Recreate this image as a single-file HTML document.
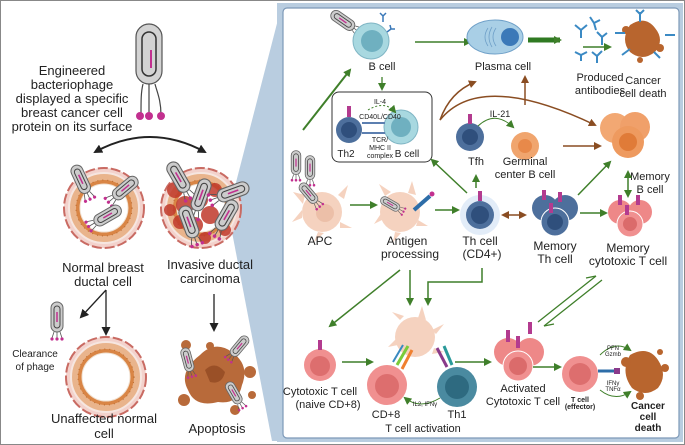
<!DOCTYPE html>
<html><head><meta charset="utf-8"><style>
html,body{margin:0;padding:0;background:#fff}
svg{display:block}
text{font-family:"Liberation Sans",sans-serif;fill:#222}
</style></head><body>
<svg width="685" height="445" viewBox="0 0 685 445" xmlns="http://www.w3.org/2000/svg">
<defs>
<marker id="ga" markerWidth="8" markerHeight="8" refX="6" refY="4" orient="auto" markerUnits="userSpaceOnUse"><path d="M0,0L8,4L0,8z" fill="#3f7f2a"/></marker>
<marker id="ba" markerWidth="8" markerHeight="8" refX="6" refY="4" orient="auto" markerUnits="userSpaceOnUse"><path d="M0,0L8,4L0,8z" fill="#8a4d22"/></marker>
<marker id="bs" markerWidth="8" markerHeight="8" refX="2" refY="4" orient="auto" markerUnits="userSpaceOnUse"><path d="M8,0L0,4L8,8z" fill="#8a4d22"/></marker>
<marker id="ka" markerWidth="9" markerHeight="9" refX="7" refY="4.5" orient="auto" markerUnits="userSpaceOnUse"><path d="M0,0L9,4.5L0,9z" fill="#222"/></marker>
<marker id="ks" markerWidth="9" markerHeight="9" refX="2" refY="4.5" orient="auto" markerUnits="userSpaceOnUse"><path d="M9,0L0,4.5L9,9z" fill="#222"/></marker>
<marker id="gs" markerWidth="8" markerHeight="8" refX="2" refY="4" orient="auto" markerUnits="userSpaceOnUse"><path d="M8,0L0,4L8,8z" fill="#3f7f2a"/></marker>
<g id="phage">
<rect x="-6" y="-18" width="12" height="30" rx="6" fill="#ccc" stroke="#666" stroke-width="1"/>
<rect x="-3" y="-14" width="6" height="22" rx="3" fill="none" stroke="#444" stroke-width="1"/>
<line x1="0" y1="-8" x2="0" y2="2" stroke="#c2308f" stroke-width="1.5"/>
<path d="M-3,12L-5,18M0,12L0,18M3,12L5,18" stroke="#555" stroke-width="0.8"/>
<circle cx="-5" cy="19" r="1.6" fill="#c2308f"/><circle cx="0" cy="19" r="1.6" fill="#c2308f"/><circle cx="5" cy="19" r="1.6" fill="#c2308f"/>
</g>
<g id="duct">
<circle r="40" fill="#f3d2cc" stroke="#c96b63" stroke-width="2" stroke-dasharray="10 3"/>
<circle r="35" fill="#e9b48c" stroke="#f6e6e0" stroke-width="2"/>
<circle r="28" fill="#d98545"/>
<circle r="28" fill="none" stroke="#b86a30" stroke-width="1" stroke-dasharray="1 4"/>
<circle r="24" fill="#fff" stroke="#f0e0d0" stroke-width="1"/>
</g>
</defs>

<!-- outer frame -->
<rect x="0.5" y="0.5" width="684" height="444" fill="#fff" stroke="#888"/>
<!-- wedge -->
<polygon points="282,4 232,198 232,232 272,441 282,441" fill="#b9cde0"/>
<rect x="277" y="3" width="406" height="439" fill="#b9cde0"/>
<rect x="283" y="8" width="396" height="430" rx="4" fill="#fff" stroke="#7d99b8" stroke-width="1.2"/>

<!-- LEFT PANEL -->
<g transform="translate(149,60)">
<rect x="-13" y="-36" width="26" height="60" rx="13" fill="#d3d3d3" stroke="#555" stroke-width="1.2"/>
<rect x="-7" y="-28" width="14" height="44" rx="7" fill="none" stroke="#333" stroke-width="1.5"/>
<line x1="2" y1="-10" x2="2" y2="8" stroke="#c2308f" stroke-width="2"/>
<path d="M-6,24C-8,32 -8,40 -8,55M0,24V55M6,24C8,32 12,40 12,55" stroke="#444" stroke-width="1.2" fill="none"/>
<circle cx="-9" cy="56" r="4" fill="#c2308f"/><circle cx="0" cy="56" r="4" fill="#c2308f"/><circle cx="12" cy="56" r="4" fill="#c2308f"/>
</g>
<g font-size="13" text-anchor="middle">
<text x="72" y="75">Engineered</text>
<text x="72" y="89">bacteriophage</text>
<text x="72" y="103">displayed a specific</text>
<text x="72" y="117">breast cancer cell</text>
<text x="72" y="131">protein on its surface</text>
</g>
<path d="M95,152Q150,122 205,152" fill="none" stroke="#222" stroke-width="2" marker-end="url(#ka)" marker-start="url(#ks)"/>

<use href="#duct" x="104" y="208"/>
<use href="#phage" transform="translate(82,182) rotate(-25)"/>
<use href="#phage" transform="translate(123,190) rotate(50)"/>
<use href="#phage" transform="translate(105,217) rotate(60)"/>
<use href="#duct" x="201" y="208"/>
<g fill="#c0392b" opacity="0.85">
<circle cx="175" cy="190" r="8"/><circle cx="185" cy="205" r="9"/><circle cx="200" cy="200" r="8"/><circle cx="210" cy="215" r="9"/><circle cx="195" cy="225" r="8"/><circle cx="180" cy="222" r="7"/><circle cx="215" cy="190" r="7"/><circle cx="225" cy="230" r="6"/><circle cx="170" cy="210" r="6"/><circle cx="205" cy="238" r="6"/>
</g>
<use href="#phage" transform="translate(180,180) rotate(-30) scale(1.1)"/>
<use href="#phage" transform="translate(200,198) rotate(20) scale(1.1)"/>
<use href="#phage" transform="translate(230,193) rotate(70) scale(1.1)"/>
<use href="#phage" transform="translate(225,218) rotate(30) scale(1.1)"/>
<use href="#phage" transform="translate(190,225) rotate(-20) scale(1.1)"/>

<g font-size="13" text-anchor="middle">
<text x="103" y="272">Normal breast</text>
<text x="103" y="286">ductal cell</text>
<text x="210" y="269">Invasive ductal</text>
<text x="210" y="283">carcinoma</text>
</g>
<path d="M106,290L81,317" stroke="#222" stroke-width="1.3" marker-end="url(#ka)"/>
<path d="M106,290V334" stroke="#222" stroke-width="1.3" marker-end="url(#ka)"/>
<path d="M214,294V330" stroke="#222" stroke-width="1.3" marker-end="url(#ka)"/>
<use href="#phage" transform="translate(57,320)"/>
<g font-size="10" text-anchor="middle"><text x="35" y="357">Clearance</text><text x="35" y="370">of phage</text></g>
<use href="#duct" x="106" y="377"/>
<g font-size="13" text-anchor="middle"><text x="104" y="423">Unaffected normal</text><text x="104" y="438">cell</text></g>
<g fill="#b86a3a">
<path d="M200,355Q215,340 232,352Q250,365 242,385Q238,405 218,402Q195,408 188,390Q178,372 200,355z"/>
<circle cx="186" cy="345" r="5"/><circle cx="250" cy="372" r="6"/><circle cx="184" cy="400" r="6"/><circle cx="235" cy="410" r="5"/><circle cx="210" cy="346" r="4"/><circle cx="252" cy="395" r="4"/>
</g>
<path d="M205,370Q215,360 225,372Q222,385 210,382z" fill="#9a5027"/>
<use href="#phage" transform="translate(188,362) rotate(-15) scale(0.8)"/>
<use href="#phage" transform="translate(238,348) rotate(40) scale(0.8)"/>
<use href="#phage" transform="translate(235,395) rotate(-30) scale(0.8)"/>
<text x="217" y="433" font-size="13" text-anchor="middle">Apoptosis</text>

<!-- RIGHT PANEL -->
<!-- B cell top -->
<use href="#phage" transform="translate(345,22) rotate(-55) scale(0.9)"/>
<circle cx="371" cy="41" r="18" fill="#a8d8e0" stroke="#7fb5c4"/><circle cx="372" cy="41" r="11" fill="#6fb0c0"/>
<path d="M383,22v-6m0,0l-3,-3m3,3l3,-3M387,32l4,-3m0,0l-1,-4m1,4l4,0" stroke="#3a78b8" stroke-width="1.5" fill="none"/>
<text x="382" y="70" font-size="11" text-anchor="middle">B cell</text>
<path d="M415,42H470" stroke="#3f7f2a" stroke-width="1.5" marker-end="url(#ga)"/>
<ellipse cx="495" cy="37" rx="28" ry="17" fill="#a9cfe6" stroke="#6fa0c8"/>
<circle cx="510" cy="37" r="9" fill="#3b79b8"/>
<path d="M488,28q-6,9 0,18M492,27q-6,10 0,20M496,28q-6,9 0,18" stroke="#6fa0c8" fill="none" stroke-width="0.8"/>
<text x="503" y="70" font-size="11" text-anchor="middle">Plasma cell</text>
<path d="M528,40H560" stroke="#2f7a22" stroke-width="5" marker-end="url(#ga)"/>
<g stroke="#3b8ac4" stroke-width="2" fill="none">
<path d="M575,25l6,5l6,-5M581,30v8"/><path d="M590,17l4,6l6,-3M594,23l2,7"/><path d="M597,32l5,5l5,-4M602,37v8"/>
<path d="M575,52l6,3l6,-3M581,55v6"/><path d="M592,52l5,4l5,-5M597,56v7"/>
</g>
<path d="M583,47H610" stroke="#3f7f2a" stroke-width="1.5" marker-end="url(#ga)"/>
<g fill="#b8652e"><path d="M630,25Q645,15 655,28Q665,40 655,52Q642,62 630,52Q620,40 630,25z"/><circle cx="626" cy="30" r="4"/><circle cx="660" cy="48" r="4"/><circle cx="640" cy="60" r="3"/></g>
<g stroke="#3b8ac4" stroke-width="2" fill="none"><path d="M640,12v10M636,10l4,4l4,-4"/><path d="M615,33h10"/><path d="M665,35h10"/><path d="M622,55l8,-6"/><path d="M660,58l-6,-6"/></g>
<g font-size="11" text-anchor="middle"><text x="600" y="81">Produced</text><text x="600" y="94">antibodies</text><text x="643" y="84">Cancer</text><text x="643" y="97">cell death</text></g>

<!-- Th2 box -->
<path d="M382,77V89" stroke="#3f7f2a" stroke-width="1.3" marker-end="url(#ga)"/>
<rect x="332" y="92" width="100" height="70" rx="7" fill="#fff" stroke="#333" stroke-width="1"/>
<circle cx="349" cy="130" r="13" fill="#4d6f9c"/><circle cx="349" cy="130" r="8" fill="#2f4f7c"/>
<rect x="347" y="106" width="4" height="11" fill="#b33b8f"/>
<circle cx="401" cy="127" r="17" fill="#a8d8e0" stroke="#7fb5c4"/><circle cx="401" cy="127" r="10" fill="#6fb0c0"/>
<path d="M362,123H385M362,133H385" stroke="#5c7fb0" stroke-width="2"/>
<path d="M368,110Q385,100 395,112" stroke="#3f7f2a" fill="none" stroke-dasharray="2 2" marker-end="url(#ga)"/>
<g font-size="7" text-anchor="middle" fill="#333"><text x="380" y="104">IL-4</text><text x="380" y="119">CD40L/CD40</text><text x="380" y="142">TCR/</text><text x="380" y="150">MHC II</text><text x="380" y="158">complex</text></g>
<text x="346" y="157" font-size="10" text-anchor="middle">Th2</text><text x="407" y="157" font-size="10" text-anchor="middle">B cell</text>
<path d="M303,130L350,70" stroke="#3f7f2a" stroke-width="2" marker-end="url(#ga)"/>

<!-- brown curves -->
<path d="M440,120Q450,92 475,82" stroke="#8a4d22" stroke-width="1.5" fill="none" marker-end="url(#ba)"/>
<path d="M440,120Q480,70 595,125" stroke="#8a4d22" stroke-width="1.5" fill="none" marker-end="url(#ba)"/>
<path d="M525,105V77" stroke="#8a4d22" stroke-width="1.5" marker-end="url(#ba)"/>
<circle cx="470" cy="137" r="14" fill="#4d6f9c"/><circle cx="470" cy="137" r="8" fill="#2f4f7c"/>
<rect x="468" y="114" width="4" height="10" fill="#b33b8f"/>
<text x="476" y="165" font-size="11" text-anchor="middle">Tfh</text>
<path d="M478,126Q495,110 513,127" stroke="#3f7f2a" fill="none" marker-end="url(#ga)"/>
<text x="500" y="117" font-size="9" text-anchor="middle">IL-21</text>
<circle cx="525" cy="146" r="14" fill="#f0a56e"/><circle cx="525" cy="146" r="7" fill="#e8894a"/>
<g font-size="11" text-anchor="middle"><text x="525" y="165">Germinal</text><text x="525" y="178">center B cell</text></g>
<path d="M563,146H600" stroke="#8a4d22" stroke-width="1.5" marker-end="url(#ba)"/>
<circle cx="615" cy="128" r="15" fill="#f2a873"/><circle cx="635" cy="127" r="15" fill="#f0a06a"/><circle cx="628" cy="142" r="16" fill="#ee9a5f"/><circle cx="628" cy="142" r="9" fill="#e07b38"/>
<g font-size="11" text-anchor="middle"><text x="650" y="180">Memory</text><text x="650" y="193">B cell</text></g>

<!-- APC row -->
<use href="#phage" transform="translate(296,165) scale(0.8)"/><use href="#phage" transform="translate(310,170) scale(0.8)"/>
<g fill="#f5d2bf"><circle cx="322" cy="212" r="20"/><path d="M305,195l-12,-3l10,12zM338,195l10,-10l-4,14zM340,222l12,6l-12,0zM318,232l-4,10l10,-9zM302,218l-10,4l10,-12z"/></g>
<circle cx="325" cy="213" r="9" fill="#ecbfa8"/>
<use href="#phage" transform="translate(310,195) rotate(-40) scale(0.8)"/>
<text x="320" y="245" font-size="12" text-anchor="middle">APC</text>
<path d="M350,205H376" stroke="#3f7f2a" stroke-width="1.5" marker-end="url(#ga)"/>
<g fill="#f5d2bf"><circle cx="400" cy="212" r="20"/><path d="M385,196l-6,-12l12,8zM408,193l4,-12l4,14zM418,220l10,6l-12,0zM395,232l-2,10l8,-9zM382,220l-8,4l8,-12z"/></g>
<use href="#phage" transform="translate(392,205) rotate(-60) scale(0.7)"/>
<path d="M414,210L430,196" stroke="#2d6da8" stroke-width="4"/><circle cx="432" cy="194" r="2.5" fill="#c2308f"/>
<g font-size="12" text-anchor="middle"><text x="407" y="245">Antigen</text><text x="410" y="258">processing</text></g>
<path d="M435,210H458" stroke="#3f7f2a" stroke-width="1.5" marker-end="url(#ga)"/>
<circle cx="480" cy="215" r="20" fill="#cfe0f3" opacity="0.6"/>
<circle cx="480" cy="215" r="14" fill="#4d6f9c"/><circle cx="480" cy="215" r="9" fill="#2f4f7c"/>
<rect x="478" y="191" width="4" height="10" fill="#b33b8f"/>
<g font-size="12" text-anchor="middle"><text x="480" y="245">Th cell</text><text x="482" y="258">(CD4+)</text></g>
<path d="M476,188V176" stroke="#3f7f2a" stroke-width="1.5" marker-end="url(#ga)"/>
<path d="M467,193L432,160" stroke="#3f7f2a" stroke-width="1.5" marker-end="url(#ga)"/>
<path d="M503,215H525" stroke="#8a4d22" stroke-width="1.5" marker-end="url(#ba)" marker-start="url(#bs)"/>
<circle cx="545" cy="208" r="13" fill="#4d6f9c"/><circle cx="565" cy="208" r="13" fill="#4d6f9c"/><circle cx="555" cy="222" r="14" fill="#4d6f9c" stroke="#fff"/>
<circle cx="555" cy="222" r="8" fill="#2f4f7c"/>
<rect x="542" y="190" width="4" height="10" fill="#b33b8f"/><rect x="558" y="192" width="4" height="10" fill="#b33b8f"/><rect x="549" y="203" width="4" height="10" fill="#b33b8f"/>
<g font-size="12" text-anchor="middle"><text x="555" y="250">Memory</text><text x="555" y="263">Th cell</text></g>
<path d="M580,213H606" stroke="#3f7f2a" stroke-width="1.5" marker-end="url(#ga)"/>
<path d="M578,195L610,162" stroke="#3f7f2a" stroke-width="1.5" marker-end="url(#ga)"/>
<path d="M628,172V196" stroke="#3f7f2a" stroke-width="1.5" marker-end="url(#ga)" marker-start="url(#gs)"/>
<circle cx="620" cy="212" r="12" fill="#ee8888"/><circle cx="640" cy="212" r="12" fill="#ee8888"/><circle cx="630" cy="224" r="13" fill="#f09090" stroke="#fff"/><circle cx="630" cy="224" r="7" fill="#db6b6b"/>
<rect x="618" y="195" width="4" height="10" fill="#b33b8f"/><rect x="636" y="195" width="4" height="10" fill="#b33b8f"/><rect x="625" y="205" width="4" height="10" fill="#b33b8f"/>
<g font-size="12" text-anchor="middle"><text x="628" y="252">Memory</text><text x="628" y="265">cytotoxic T cell</text></g>

<!-- bottom -->
<path d="M400,270L330,326" stroke="#3f7f2a" stroke-width="1.5" marker-end="url(#ga)"/>
<path d="M410,270V304" stroke="#3f7f2a" stroke-width="1.5" marker-end="url(#ga)"/>
<path d="M482,268V282H428V304" stroke="#3f7f2a" stroke-width="1.5" fill="none" marker-end="url(#ga)"/>
<circle cx="320" cy="365" r="16" fill="#f09090"/><circle cx="320" cy="366" r="10" fill="#dd6e6e"/>
<rect x="318" y="340" width="4" height="10" fill="#b33b8f"/>
<g font-size="11" text-anchor="middle"><text x="320" y="395">Cytotoxic T cell</text><text x="328" y="408">(naive CD+8)</text></g>
<path d="M342,362H372" stroke="#3f7f2a" stroke-width="1.5" marker-end="url(#ga)"/>
<g fill="#f5d2bf"><circle cx="415" cy="337" r="20"/><path d="M400,320l-8,-8l12,4zM418,318l4,-12l4,14zM432,330l12,-6l-8,10zM434,348l10,4l-12,2zM398,345l-10,2l10,-10z"/></g>
<circle cx="387" cy="385" r="20" fill="#f09090"/><circle cx="387" cy="386" r="12" fill="#dd6e6e"/>
<circle cx="457" cy="387" r="20" fill="#4a8aa0"/><circle cx="457" cy="387" r="12" fill="#2e6a80"/>
<path d="M397,365L408,346" stroke="#7acb3a" stroke-width="3"/><path d="M402,369L412,350" stroke="#f08030" stroke-width="3"/><path d="M393,362L403,345" stroke="#3a8ac0" stroke-width="2"/>
<path d="M447,367L437,348" stroke="#8a3a8a" stroke-width="3"/><path d="M452,365L444,346" stroke="#2a9a9a" stroke-width="3"/>
<path d="M405,398Q420,410 440,398" stroke="#3f7f2a" fill="none" marker-start="url(#gs)"/>
<text x="425" y="406" font-size="6" text-anchor="middle" fill="#444">IL2, IFNγ</text>
<g font-size="11" text-anchor="middle"><text x="386" y="418">CD+8</text><text x="457" y="418">Th1</text><text x="423" y="432">T cell activation</text></g>
<path d="M455,362H490" stroke="#3f7f2a" stroke-width="1.5" marker-end="url(#ga)"/>
<circle cx="508" cy="352" r="14" fill="#ee8888"/><circle cx="530" cy="352" r="14" fill="#ee8888"/><circle cx="518" cy="366" r="15" fill="#f09090" stroke="#fff"/><circle cx="518" cy="366" r="9" fill="#db6b6b"/>
<rect x="506" y="330" width="4" height="12" fill="#b33b8f"/><rect x="528" y="322" width="4" height="12" fill="#b33b8f"/><rect x="516" y="336" width="4" height="12" fill="#b33b8f"/>
<g font-size="11" text-anchor="middle"><text x="523" y="392">Activated</text><text x="523" y="405">Cytotoxic T cell</text></g>
<path d="M538,322L596,276M544,326L602,280" stroke="#3f7f2a" stroke-width="1.3"/>
<path d="M596,276l-10,2M544,326l10,-2" stroke="#3f7f2a" stroke-width="1.3"/>
<path d="M533,367H560" stroke="#3f7f2a" stroke-width="1.5" marker-end="url(#ga)"/>
<circle cx="580" cy="374" r="18" fill="#f09090"/><circle cx="580" cy="374" r="11" fill="#dd6e6e"/>
<path d="M598,371H615" stroke="#2d6da8" stroke-width="3"/><rect x="614" y="368" width="6" height="6" fill="#8a3a8a"/>
<g fill="#b8652e"><path d="M630,355Q648,345 658,360Q668,375 658,388Q645,398 632,388Q620,372 630,355z"/><circle cx="626" cy="362" r="5"/><circle cx="665" cy="368" r="4"/><circle cx="640" cy="396" r="4"/><circle cx="660" cy="352" r="3"/></g>
<path d="M600,355Q615,340 630,350" stroke="#3f7f2a" fill="none" marker-end="url(#ga)"/>
<path d="M600,390Q615,402 630,392" stroke="#3f7f2a" fill="none" marker-end="url(#ga)"/>
<g font-size="6" text-anchor="middle" fill="#555"><text x="613" y="350">PFN</text><text x="613" y="356">Gzmb</text><text x="613" y="385">IFNγ</text><text x="613" y="391">TNFα</text></g>
<g font-size="7" font-weight="bold" text-anchor="middle"><text x="580" y="402">T cell</text><text x="580" y="409">(effector)</text></g>
<g font-size="10" font-weight="bold" text-anchor="middle"><text x="648" y="409">Cancer</text><text x="648" y="420">cell</text><text x="648" y="431">death</text></g>
</svg>
</body></html>
